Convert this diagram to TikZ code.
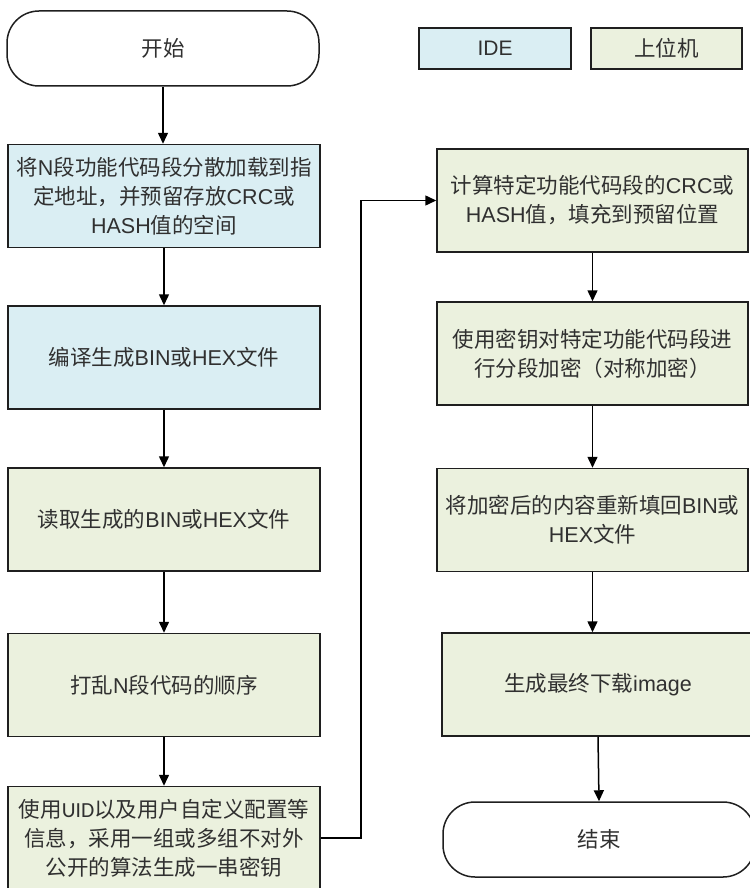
\documentclass[tikz,border=0pt]{standalone}
\usepackage{fontspec}
\setmainfont{Noto Sans CJK SC}
\newfontfamily\lat{Liberation Sans}
\newfontfamily\carl{Carlito}
\usetikzlibrary{arrows.meta}
\definecolor{ideblue}{HTML}{DAEEF3}
\definecolor{hostgreen}{HTML}{EBF1DE}
\definecolor{txt}{HTML}{303030}
\tikzset{
  box/.style={draw=black!88, line width=1.5pt, minimum width=312pt, minimum height=103pt,
    align=center, inner sep=0pt, text=txt, font=\fontsize{21.5}{29}\selectfont},
  bluebox/.style={box, fill=ideblue},
  greenbox/.style={box, fill=hostgreen},
  term/.style={box, fill=white, rounded corners=32pt, minimum height=75pt},
  legendbox/.style={box, minimum width=152pt, minimum height=41pt},
  arr/.style={-{Triangle[length=11pt,width=10pt]}, line width=1.5pt, draw=black}
}
\begin{document}
\begin{tikzpicture}[x=1pt,y=-1pt]
\useasboundingbox (0,0) rectangle (749,888);
% left column
\node[term] (start) at (163,48.5) {开始};
\node[bluebox] (b1) at (164,196) {将{\lat N}段功能代码段分散加载到指\\定地址，并预留存放{\lat CRC}或\\{\lat HASH}值的空间};
\node[bluebox] (b2) at (164,357.5) {编译生成{\lat BIN}或{\lat HEX}文件};
\node[greenbox] (b3) at (164,519.5) {读取生成的{\lat BIN}或{\lat HEX}文件};
\node[greenbox] (b4) at (164,685) {打乱{\lat N}段代码的顺序};
\node[greenbox] (b5) at (164,838) {使用{\carl UID}以及用户自定义配置等\\信息，采用一组或多组不对外\\公开的算法生成一串密钥};
% legend
\node[legendbox, fill=ideblue, font=\fontsize{21}{24}\lat] (lg1) at (495,48.5) {IDE};
\node[legendbox, fill=hostgreen, minimum width=151pt] (lg2) at (666.5,48.5) {上位机};
% right column
\node[greenbox, minimum width=311pt] (r1) at (592.5,200.5) {计算特定功能代码段的{\lat CRC}或\\{\lat HASH}值，填充到预留位置};
\node[greenbox, minimum width=311pt] (r2) at (592.5,353.5) {使用密钥对特定功能代码段进\\行分段加密（对称加密）};
\node[greenbox, minimum width=311pt] (r3) at (592.5,520) {将加密后的内容重新填回{\lat BIN}或\\{\lat HEX}文件};
\node[greenbox] (r4) at (598,684.5) {生成最终下载{\lat image}};
\node[term] (end) at (599,839.5) {结束};
% connectors
\draw[arr] (start.south) -- (b1.north -| start.south);
\draw[arr] (b1.south) -- (b2.north);
\draw[arr] (b2.south) -- (b3.north);
\draw[arr] (b3.south) -- (b4.north);
\draw[arr] (b4.south) -- (b5.north);
\draw[arr] (b5.east) -- ++(40,0) |- (r1.west);
\draw[arr] (r1.south) -- (r2.north);
\draw[arr] (r2.south) -- (r3.north);
\draw[arr] (r3.south) -- (r3.south |- r4.north);
\draw[arr] (r4.south) -- (end.north);
\end{tikzpicture}
\end{document}
